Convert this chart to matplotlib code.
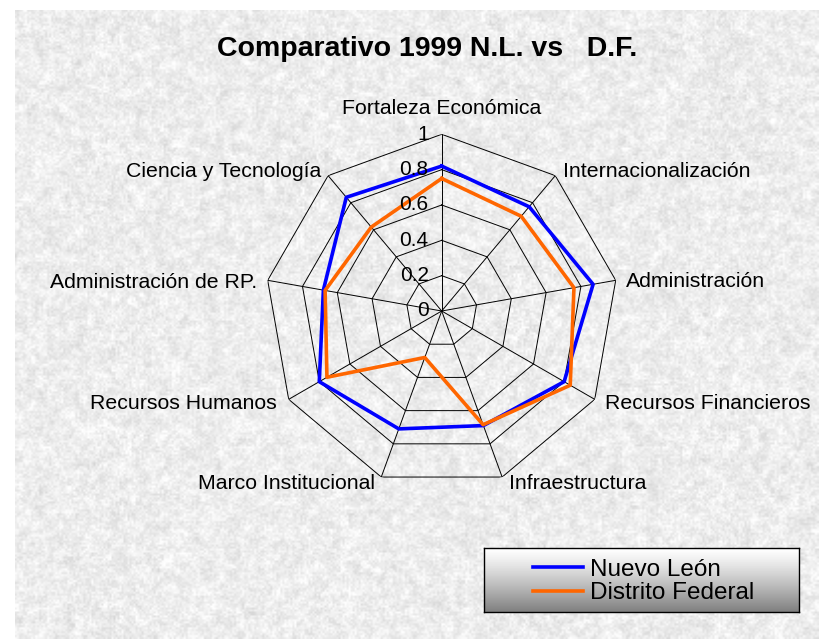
import numpy as np
import matplotlib
matplotlib.use("Agg")
import matplotlib.pyplot as plt
from matplotlib.transforms import offset_copy

# ---- data ----
categories = ["Fortaleza Económica", "Internacionalización", "Administración",
              "Recursos Financieros", "Infraestructura", "Marco Institucional",
              "Recursos Humanos", "Administración de RP.", "Ciencia y Tecnología"]
nuevo_leon = [0.82, 0.77, 0.87, 0.80, 0.69, 0.71, 0.80, 0.68, 0.84]
distrito_federal = [0.75, 0.70, 0.76, 0.84, 0.685, 0.28, 0.75, 0.67, 0.62]
series_names = ["Nuevo León", "Distrito Federal"]
r_ticks = [0, 0.2, 0.4, 0.6, 0.8, 1.0]
r_tick_labels = ["0", "0.2", "0.4", "0.6", "0.8", "1"]
title = "Comparativo 1999 N.L. vs   D.F."

W, H = 819, 639
plt.rcParams['font.family'] = ['Liberation Sans', 'DejaVu Sans']
fig = plt.figure(figsize=(W / 100, H / 100), dpi=100, facecolor="white")

def fx(px):
    return px / W

def fy(py):
    return 1 - py / H

# ---- granite-like background texture (decorative only) ----
bg = fig.add_axes([fx(15), 0, 1 - fx(15), 1 - 10 / H])
rng = np.random.default_rng(3)
small = rng.random((161, 201))
tex = (small[:-1, :-1] + small[1:, :-1] + small[:-1, 1:] + small[1:, 1:]) / 4
tex_big = np.kron(tex, np.ones((2, 2)))          # 320 x 400
fine = rng.random(tex_big.shape)
img = 0.6 * tex_big + 0.4 * fine
img = 0.93 + (img - img.mean()) * 0.22
img = np.clip(img, 0.7, 1.0)
bg.imshow(img, cmap="gray", vmin=0, vmax=1, aspect="auto", interpolation="bilinear")
bg.set_axis_off()

# ---- radar axes ----
cx, cy, R = 441.7, 311.0, 176.7
ax = fig.add_axes([fx(cx - R), fy(cy + R), 2 * R / W, 2 * R / H], projection="polar")
ax.set_theta_zero_location("N")
ax.set_theta_direction(-1)
ax.set_ylim(0, 1)
ax.patch.set_alpha(0)
ax.grid(False)
ax.spines["polar"].set_visible(False)
ax.set_xticks([])
ax.set_yticks([])

n = len(categories)
theta = np.arange(n) * 2 * np.pi / n
theta_c = np.append(theta, theta[0])

# polygon grid
for r in r_ticks[1:]:
    ax.plot(theta_c, [r] * (n + 1), color="black", lw=0.7, zorder=1)
for t in theta:
    ax.plot([t, t], [0, 1], color="black", lw=0.7, zorder=1)

# series
ax.plot(theta_c, nuevo_leon + nuevo_leon[:1], color="#0000FF", lw=2.6,
        label=series_names[0], zorder=3)
ax.plot(theta_c, distrito_federal + distrito_federal[:1], color="#FF6600", lw=2.6,
        label=series_names[1], zorder=4)

# radial tick labels
tr = offset_copy(ax.transData, fig=fig, x=-13, y=0, units="dots")
for r, lab in zip(r_ticks, r_tick_labels):
    ax.text(0, r, lab, transform=tr, ha="right", va="center", fontsize=15,
            zorder=5)

# category labels (pixel anchors)
label_pos = [
    (441.7, 114, "center"),
    (563, 177.3, "left"),
    (626, 287.3, "left"),
    (605, 409.3, "left"),
    (509, 489.3, "left"),
    (375, 489.3, "right"),
    (277, 409.3, "right"),
    (257, 287.7, "right"),
    (321, 177.3, "right"),
]
for cat, (px, py, ha) in zip(categories, label_pos):
    fig.text(fx(px), fy(py), cat, ha=ha, va="baseline", fontsize=15.3)

# title
fig.text(fx(427), fy(56), title, ha="center", va="baseline", fontsize=20.5,
         fontweight="bold")

# ---- legend with gradient box ----
lx0, lx1, ly0, ly1 = 484, 799, 548, 612
lax = fig.add_axes([fx(lx0), fy(ly1), (lx1 - lx0) / W, (ly1 - ly0) / H])
t = np.linspace(0, 1, 100)[:, None]
grad = 1 - 0.5 * t ** 1.2
lax.imshow(np.repeat(grad, 10, axis=1), cmap="gray", vmin=0, vmax=1,
           aspect="auto", extent=(0, 1, 0, 1))
lax.set_xticks([])
lax.set_yticks([])
for s in lax.spines.values():
    s.set_color("black")
    s.set_linewidth(1.0)

handles, labels = ax.get_legend_handles_labels()
leg = fig.legend(handles, labels, loc="center",
                 bbox_to_anchor=(fx(644), fy(581.5)), frameon=False,
                 fontsize=17.5, handlelength=2.06, handletextpad=0.29,
                 labelspacing=0.08, borderpad=0)

fig.savefig("out.png", dpi=100, facecolor="white")
